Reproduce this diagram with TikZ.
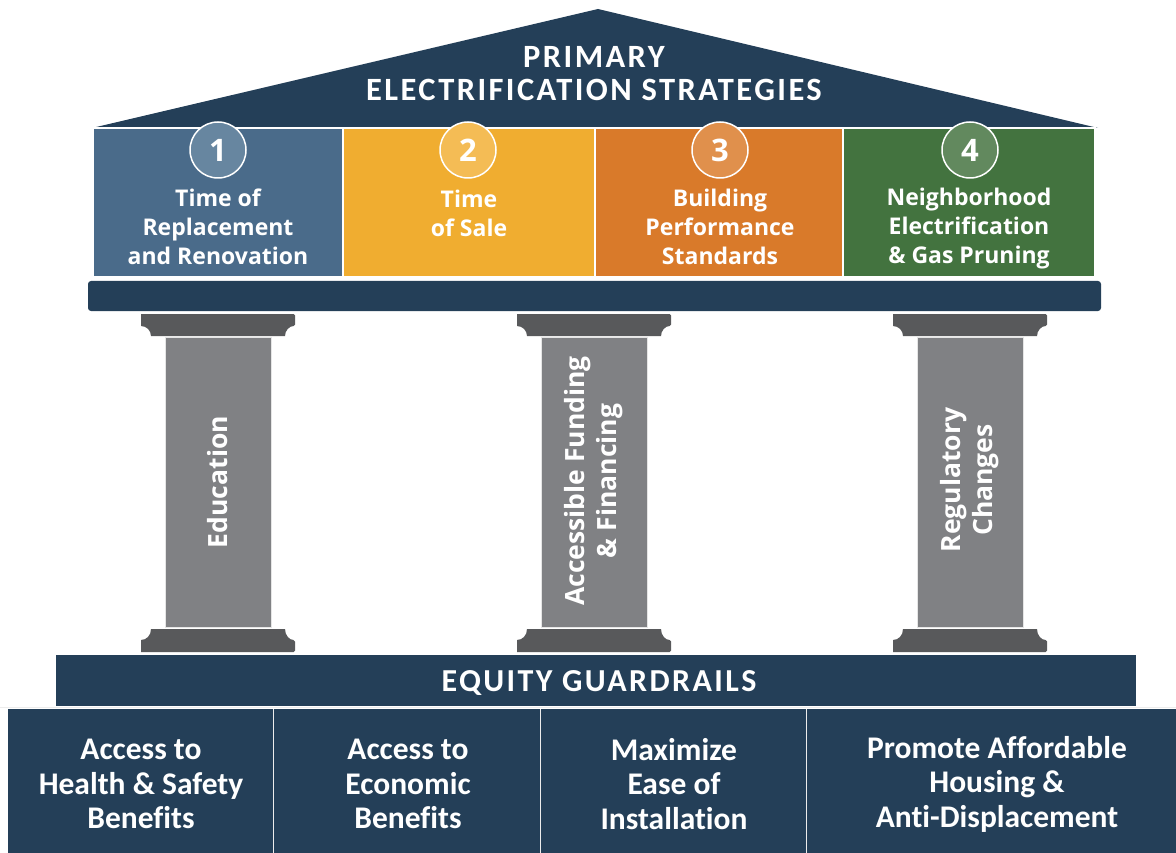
\documentclass[tikz,border=0pt]{standalone}
\usepackage{fontspec}
\setmainfont{Open Sans}
\newfontfamily\calib{Carlito}[Ligatures={NoCommon}]
\definecolor{navy}{HTML}{243F58}
\definecolor{sblue}{HTML}{4A6B8A}
\definecolor{syellow}{HTML}{F0AD30}
\definecolor{sorange}{HTML}{D97A2A}
\definecolor{sgreen}{HTML}{43733F}
\definecolor{cblue}{HTML}{6786A0}
\definecolor{cyellow}{HTML}{F4BC55}
\definecolor{corange}{HTML}{E0904C}
\definecolor{cgreen}{HTML}{62895E}
\definecolor{capgray}{HTML}{58595B}
\definecolor{shaftgray}{HTML}{808184}
\tikzset{
  stratbox/.style={draw=white, line width=1.2pt},
  numcirc/.style={circle, draw=white, line width=1.5pt, minimum size=56pt, inner sep=0pt, text=white, font=\bfseries\fontsize{31}{31}\selectfont},
  strattext/.style={text=white, align=center, font=\bfseries\fontsize{23}{29}\selectfont},
  coltext/.style={text=white, align=center, rotate=90, font=\bfseries\fontsize{26.5}{32}\selectfont},
  bottext/.style={text=white, align=center, font=\calib\bfseries\fontsize{31.5}{34.5}\selectfont},
  divider/.style={draw=white!85!gray, line width=1.5pt},
}
\begin{document}
\begin{tikzpicture}[x=1pt,y=-1pt]
\useasboundingbox (0,0) rectangle (1176,853);
% roof
\fill[navy] (92,128) -- (598,9) -- (1098,128) -- cycle;
\node[text=white, align=center, font=\calib\bfseries\fontsize{32.5}{33}\selectfont\addfontfeature{LetterSpace=7.5}] (title) at (594,74) {PRIMARY\\ELECTRIFICATION STRATEGIES};
% strategy boxes
\fill[sblue] (93,128) rectangle (343,277);
\fill[syellow] (343,128) rectangle (595,277);
\fill[sorange] (595,128) rectangle (843,277);
\fill[sgreen] (843,128) rectangle (1095,277);
\draw[stratbox] (93,128) rectangle (343,277);
\draw[stratbox] (343,128) rectangle (595,277);
\draw[stratbox] (595,128) rectangle (843,277);
\draw[stratbox] (843,128) rectangle (1095,277);
\node[numcirc, fill=cblue] (n1) at (218,150) {1};
\node[numcirc, fill=cyellow] (n2) at (468,150) {2};
\node[numcirc, fill=corange] (n3) at (720,150) {3};
\node[numcirc, fill=cgreen] (n4) at (970,150) {4};
\node[strattext] (s1) at (218,227) {Time of\\Replacement\\and Renovation};
\node[strattext] (s2) at (469,213) {Time\\of Sale};
\node[strattext] (s3) at (720,227) {Building\\Performance\\Standards};
\node[strattext] (s4) at (969,228.5) {Neighborhood\\Electrification\\\& Gas Pruning};
% entablature
\fill[navy, rounded corners=3pt] (88,281) rectangle (1101,311);
% columns
\foreach \cx/\nm in {218/a, 594/b, 970/c}{
  % capital
  \fill[capgray, rounded corners=1.5pt] (\cx-77,314) -- (\cx+77,314) -- (\cx+77,326) [sharp corners] .. controls (\cx+71.5,326) and (\cx+67,330.5) .. (\cx+67,336) -- (\cx-67,336) .. controls (\cx-67,330.5) and (\cx-71.5,326) .. (\cx-77,326) -- cycle;
  % shaft
  \filldraw[fill=shaftgray, draw=white!80!gray, line width=0.8pt] (\cx-53,337) rectangle (\cx+53,627);
  % base
  \fill[capgray, rounded corners=1.5pt] (\cx-77,652) -- (\cx+77,652) -- (\cx+77,640) [sharp corners] .. controls (\cx+71.5,640) and (\cx+67,635.5) .. (\cx+67,629) -- (\cx-67,629) .. controls (\cx-67,635.5) and (\cx-71.5,640) .. (\cx-77,640) -- cycle;
}
\node[coltext] (c1) at (218,482) {Education};
\node[coltext] (c2) at (594,481) {Accessible Funding\\\& Financing};
\node[coltext] (c3) at (970,480) {Regulatory\\Changes};
% equity bar
\fill[navy] (56,655) rectangle (1136,706);
\node[text=white, font=\calib\bfseries\fontsize{32}{33}\selectfont\addfontfeature{LetterSpace=7.5}] (eq) at (599,683) {EQUITY GUARDRAILS};
% bottom boxes
\fill[navy] (8,709) rectangle (1176,853);
\draw[divider] (273.5,709) -- (273.5,853);
\draw[divider] (540.5,709) -- (540.5,853);
\draw[divider] (806.5,709) -- (806.5,853);
\draw[divider] (0,707.5) -- (1176,707.5);
\node[bottext] (b1) at (141,784) {Access to\\Health \& Safety\\Benefits};
\node[bottext] (b2) at (408,784) {Access to\\Economic\\Benefits};
\node[bottext] (b3) at (674,784) {Maximize\\Ease of\\Installation};
\node[bottext] (b4) at (997,784) {Promote Affordable\\Housing \&\\Anti-Displacement};
\end{tikzpicture}
\end{document}
